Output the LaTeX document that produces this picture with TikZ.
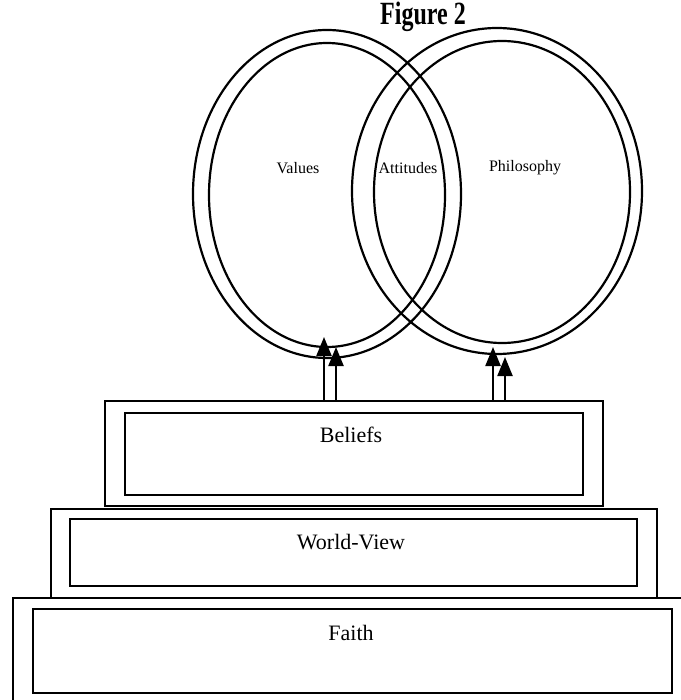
\documentclass[tikz,border=0pt]{standalone}
\usepackage{fontspec}
\usepackage{graphicx}
\setmainfont{Liberation Serif}
\usetikzlibrary{arrows.meta,shapes.geometric}
\begin{document}
\begin{tikzpicture}[x=1pt,y=-1pt,line width=2.2pt,
  boxnode/.style={draw,line width=2.2pt,inner sep=0pt,anchor=north west},
  ringnode/.style={draw,ellipse,line width=2.2pt,inner sep=0pt},
  lbl/.style={font=\fontsize{22}{24}\selectfont,inner sep=0pt},
  small/.style={font=\fontsize{16}{18}\selectfont,inner sep=0pt},
  arr/.style={line width=2.2pt,-{Triangle[length=19pt,width=15pt]}}]
\useasboundingbox (0,0) rectangle (680,700);

% title
\node[font=\bfseries\fontsize{24}{26}\selectfont,inner sep=0pt] (title) at (423,17) {\scalebox{1}[1.35]{Figure 2}};

% rings
\node[ringnode,minimum width=268pt,minimum height=328pt] (lo) at (327,194) {};
\node[ringnode,minimum width=236pt,minimum height=304pt] (li) at (327,195) {};
\node[ringnode,minimum width=290pt,minimum height=326pt] (ro) at (497,191) {};
\node[ringnode,minimum width=256pt,minimum height=302pt] (ri) at (502,192) {};

\node[small] (values) at (298,168) {Values};
\node[small] (attitudes) at (408,168) {Attitudes};
\node[small] (philosophy) at (525,168) {Philosophy};

% boxes
\node[boxnode,minimum width=498pt,minimum height=105pt] (bo) at (104,400) {};
\node[boxnode,minimum width=458pt,minimum height=82pt] (bi) at (124,412) {};
\node[boxnode,minimum width=606pt,minimum height=89pt] (wo) at (50,508) {};
\node[boxnode,minimum width=567pt,minimum height=67pt] (wi) at (69,518) {};
\node[boxnode,minimum width=700pt,minimum height=130pt] (fo) at (12,597) {};
\node[boxnode,minimum width=639pt,minimum height=84pt] (fi) at (32,608) {};

\node[lbl] (beliefs) at (351,435) {Beliefs};
\node[lbl] (worldview) at (351,542) {World-View};
\node[lbl] (faith) at (351,633) {Faith};

% arrows
\coordinate (s1) at (324,400); \coordinate (e1) at (324,337);
\coordinate (s2) at (336,400); \coordinate (e2) at (336,347);
\coordinate (s3) at (493,400); \coordinate (e3) at (493,347);
\coordinate (s4) at (505,400); \coordinate (e4) at (505,357);
\draw[arr] (s1) -- (e1);
\draw[arr] (s2) -- (e2);
\draw[arr] (s3) -- (e3);
\draw[arr] (s4) -- (e4);
\end{tikzpicture}
\end{document}
